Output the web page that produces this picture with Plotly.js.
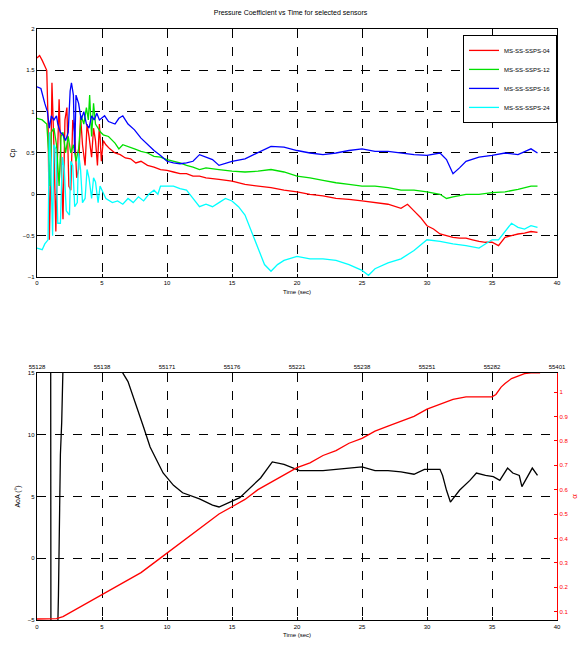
<!DOCTYPE html>
<html><head><meta charset="utf-8">
<script src="https://cdn.plot.ly/plotly-3.0.1.min.js"></script>
<style>html,body{margin:0;padding:0;background:#fff}#c{width:581px;height:648px}</style>
</head><body><div id="c"></div>
<script>
// ---- Top plot: pressure coefficient vs time ----
const seriesNames = ["MS-SS-SSPS-04", "MS-SS-SSPS-12", "MS-SS-SSPS-16", "MS-SS-SSPS-24"];
const seriesColors = ["#ff0000", "#00e000", "#0000ff", "#00ffff"];

const tRed = [0,0.2,0.4,0.6,0.75,0.85,0.95,1.05,1.15,1.3,1.45,1.55,1.7,1.85,2.0,2.15,2.3,2.45,2.6,2.75,2.9,3.05,3.2,3.35,3.5,3.7,3.85,4.0,4.2,4.35,4.5,4.65,4.8,4.95,5.1,5.3,5.6,6.0,6.4,6.8,7.2,7.6,8.0,8.5,9.0,9.5,10,10.5,11,11.5,12,12.5,13,14,15,16,17,18,19,20,21,22,23,24,25,26,27,28,28.5,29,29.5,30,30.5,31,31.5,32,32.5,33,33.5,34,34.5,35,35.5,36,36.5,37,37.5,38,38.5];
const cpRed = [1.65,1.68,1.62,1.55,1.5,0.9,-0.55,0.2,1.35,0.6,-0.45,0.3,1.15,0.4,-0.3,0.9,1.05,0.1,0.05,0.9,0.75,0.2,0.3,0.95,0.6,0.35,0.85,0.7,0.45,0.8,0.65,0.35,0.85,0.4,0.65,0.6,0.55,0.5,0.48,0.44,0.43,0.38,0.4,0.35,0.33,0.3,0.29,0.27,0.25,0.25,0.22,0.22,0.2,0.18,0.16,0.12,0.1,0.08,0.05,0.03,0.0,-0.02,-0.05,-0.06,-0.08,-0.1,-0.12,-0.17,-0.12,-0.2,-0.28,-0.38,-0.42,-0.48,-0.5,-0.52,-0.53,-0.53,-0.55,-0.57,-0.58,-0.58,-0.62,-0.52,-0.5,-0.48,-0.47,-0.45,-0.46];

const tGreen = [0,0.4,0.75,0.9,1.0,1.1,1.3,1.5,1.7,1.85,2.0,2.2,2.4,2.6,2.8,3.0,3.2,3.4,3.6,3.8,3.95,4.05,4.2,4.35,4.5,4.7,4.9,5.1,5.5,6.0,6.3,6.6,7.0,7.5,8.0,8.5,9,9.5,10,10.5,11,11.5,12,12.5,13,14,15,16,17,18,19,20,21,22,23,24,25,26,27,28,29,30,31,31.5,32,33,34,35,36,37,38,38.5];
const cpGreen = [0.92,0.9,0.85,0.5,0.1,0.75,0.8,0.6,0.1,0.7,0.75,0.5,0.7,0.5,0.6,0.4,0.55,0.95,0.85,1.05,0.9,1.2,0.7,1.1,0.85,0.8,0.75,0.72,0.7,0.62,0.55,0.6,0.58,0.55,0.52,0.5,0.46,0.45,0.42,0.4,0.38,0.35,0.33,0.3,0.32,0.3,0.28,0.27,0.28,0.3,0.27,0.22,0.2,0.17,0.14,0.12,0.1,0.1,0.08,0.05,0.05,0.03,0.0,-0.05,-0.03,0.0,0.0,0.02,0.03,0.06,0.1,0.1];

const tBlue = [0,0.3,0.6,0.8,0.95,1.1,1.3,1.5,1.6,1.8,2.0,2.2,2.4,2.55,2.65,2.8,2.9,3.0,3.2,3.4,3.6,3.8,4.0,4.2,4.4,4.6,4.8,5.0,5.2,5.5,6.0,6.3,6.6,7.0,7.5,8.0,8.5,9.0,9.5,10,10.5,11,11.5,12,12.5,13,13.5,14,15,16,17,18,19,20,21,22,23,24,25,26,27,28,29,30,31,31.5,32,32.5,33,34,35,36,37,38,38.5];
const cpBlue = [1.3,1.28,1.1,1.0,0.8,0.95,0.9,0.95,0.85,0.75,0.72,0.65,0.75,1.25,1.35,1.2,0.5,1.2,1.1,0.9,1.0,0.85,0.8,0.95,0.9,0.98,0.9,0.92,0.95,0.88,0.85,0.92,0.95,0.85,0.78,0.68,0.6,0.53,0.47,0.4,0.38,0.37,0.38,0.4,0.48,0.45,0.42,0.35,0.4,0.43,0.5,0.58,0.57,0.53,0.5,0.48,0.5,0.53,0.55,0.52,0.52,0.5,0.48,0.47,0.5,0.42,0.25,0.32,0.4,0.45,0.47,0.5,0.48,0.55,0.5];

const tCyan = [0,0.4,0.6,0.85,0.95,1.05,1.2,1.3,1.45,1.6,1.8,1.95,2.1,2.25,2.5,2.6,2.75,2.9,3.1,3.2,3.35,3.5,3.7,3.85,4.0,4.2,4.35,4.5,4.7,4.85,5.0,5.3,5.8,6.2,6.6,7.0,7.4,7.8,8.2,8.6,9.0,9.3,9.5,10,10.5,11,11.5,12,12.5,13,13.5,14,14.5,15,15.5,16,16.5,17,17.5,18,18.5,19,20,21,22,23,24,25,25.5,26,27,28,29,30,31,32,33,34,35,35.5,36,36.5,37,37.5,38,38.5];
const cpCyan = [-0.65,-0.67,-0.6,-0.55,0.75,0.4,-0.5,0.6,0.55,-0.35,-0.35,0.45,0.3,-0.2,-0.25,0.4,0.35,-0.15,-0.1,0.5,0.3,-0.1,-0.05,0.3,0.2,-0.05,0.2,0.15,-0.1,0.1,0.05,-0.05,-0.1,-0.08,-0.12,-0.05,-0.1,-0.03,-0.08,0.0,0.05,0.0,0.1,0.1,0.1,0.07,0.05,-0.05,-0.15,-0.12,-0.15,-0.1,-0.05,-0.08,-0.15,-0.25,-0.45,-0.65,-0.85,-0.93,-0.85,-0.8,-0.75,-0.78,-0.78,-0.8,-0.85,-0.92,-0.98,-0.9,-0.83,-0.78,-0.68,-0.55,-0.57,-0.6,-0.62,-0.65,-0.55,-0.55,-0.45,-0.35,-0.4,-0.42,-0.38,-0.4];

// ---- Bottom plot: angle of attack and alpha vs time ----
const tAoA = [0,1.05,1.07,1.6,1.65,1.7,1.8,1.9,2.0,2.1,6.3,6.6,7.0,7.7,8.2,8.7,9.2,9.7,10.5,11.2,12.5,13.5,14.0,15.6,17.2,18.1,19,20.2,22,24,25,26,27,28,29,29.8,31,31.2,31.5,31.8,32.5,33.3,33.8,34.5,35.1,35.6,36.2,36.6,37.1,37.3,37.7,38.1,38.5];
const aoa = [20,20,-5.5,-5.5,-3,2.9,8.4,11,14,20,20,15,14.3,12.2,10.6,9.0,8.0,6.9,5.9,5.3,4.8,4.3,4.15,4.9,6.5,7.8,7.6,7.1,7.1,7.3,7.4,7.1,7.1,7.0,6.8,7.2,7.2,6.7,5.5,4.55,5.5,6.3,6.9,6.7,6.6,6.3,7.3,6.9,6.7,5.8,6.6,7.3,6.7];

const tAlpha = [0,1.0,1.5,2.0,3,4,5,6,7,8,9,10,11,12,13,14,15,16,17,18,19,20,21,22,23,24,25,26,27,28,29,30,31,32,33,34,35,35.3,35.7,36,36.5,37,37.5,38,38.7];
const alpha = [0.07,0.07,0.072,0.08,0.11,0.14,0.17,0.2,0.23,0.26,0.3,0.34,0.38,0.42,0.46,0.5,0.53,0.56,0.6,0.63,0.66,0.69,0.71,0.74,0.76,0.79,0.81,0.84,0.86,0.88,0.9,0.93,0.95,0.97,0.98,0.98,0.98,0.99,1.02,1.035,1.055,1.065,1.075,1.078,1.078];

const xTicks = [0,5,10,15,20,25,30,35,40];
const topTickText = ["55128","55138","55171","55176","55221","55238","55251","55282","55401"];
const cpTicks = [-1,-0.5,0,0.5,1,1.5,2];
const aoaTicks = [-5,0,5,10,15];
const alphaTicks = [0.1,0.2,0.3,0.4,0.5,0.6,0.7,0.8,0.9,1];

const FONT = "Liberation Sans, Arial, sans-serif";
const cpSeries = [[tRed,cpRed],[tGreen,cpGreen],[tBlue,cpBlue],[tCyan,cpCyan]];
const traces = cpSeries.map((s,i)=>({
  x:s[0], y:s[1], type:"scatter", mode:"lines", name:seriesNames[i],
  line:{color:seriesColors[i], width:1.3}, xaxis:"x", yaxis:"y"
}));
traces.push({x:tAoA, y:aoa, type:"scatter", mode:"lines", showlegend:false,
  line:{color:"#000000", width:1.3}, xaxis:"x2", yaxis:"y2"});
traces.push({x:tAlpha, y:alpha, type:"scatter", mode:"lines", showlegend:false,
  line:{color:"#ff0000", width:1.3}, xaxis:"x3", yaxis:"y3"});

const common = {showline:true, linecolor:"#000", linewidth:1.3, ticks:"inside", ticklen:3,
  tickcolor:"#000", zeroline:false, tickfont:{size:6, family:FONT, color:"#000"},
  showgrid:true, gridcolor:"#000", griddash:"dash", gridwidth:1};

const layout = {
  width:581, height:648, paper_bgcolor:"#fff", plot_bgcolor:"#fff",
  margin:{l:37, r:24, t:29, b:28},
  font:{family:FONT, size:6, color:"#000"},
  title:{text:"Pressure Coefficient vs Time for selected sensors", font:{size:7, family:FONT, color:"#000"},
    x:0.5, xanchor:"center", y:1-13/648, yanchor:"middle"},
  showlegend:true,
  legend:{x:1, xanchor:"right", y:0.99, yanchor:"top", bgcolor:"#fff", bordercolor:"#000", borderwidth:1,
    font:{size:6, family:FONT}, tracegroupgap:0, itemwidth:30},
  xaxis:Object.assign({}, common, {domain:[0,1], anchor:"y", range:[0,40], tickvals:xTicks, mirror:"ticks",
    title:{text:"Time (sec)", font:{size:6}, standoff:4}}),
  yaxis:Object.assign({}, common, {domain:[0.5804,1], anchor:"x", range:[-1,2], tickvals:cpTicks, mirror:"ticks",
    title:{text:"Cp", font:{size:7}, standoff:6}}),
  xaxis2:Object.assign({}, common, {domain:[0,1], anchor:"y2", range:[0,40], tickvals:xTicks,
    title:{text:"Time (sec)", font:{size:6}, standoff:4}}),
  yaxis2:Object.assign({}, common, {domain:[0,0.418], anchor:"x2", range:[-5,15], tickvals:aoaTicks,
    title:{text:"AoA (°)", font:{size:7}, standoff:6}}),
  xaxis3:Object.assign({}, common, {overlaying:"x2", anchor:"y3", side:"top", range:[0,40], tickvals:xTicks,
    ticktext:topTickText, showgrid:false}),
  yaxis3:Object.assign({}, common, {overlaying:"y2", anchor:"x3", side:"right", range:[0.066,1.078],
    tickvals:alphaTicks, showgrid:false, linecolor:"#ff0000", tickcolor:"#ff0000",
    tickfont:{size:6, family:FONT, color:"#ff0000"},
    title:{text:"α", font:{size:8, color:"#ff0000"}, standoff:4}})
};

Plotly.newPlot("c", traces, layout, {displayModeBar:false, staticPlot:true});
</script></body></html>
